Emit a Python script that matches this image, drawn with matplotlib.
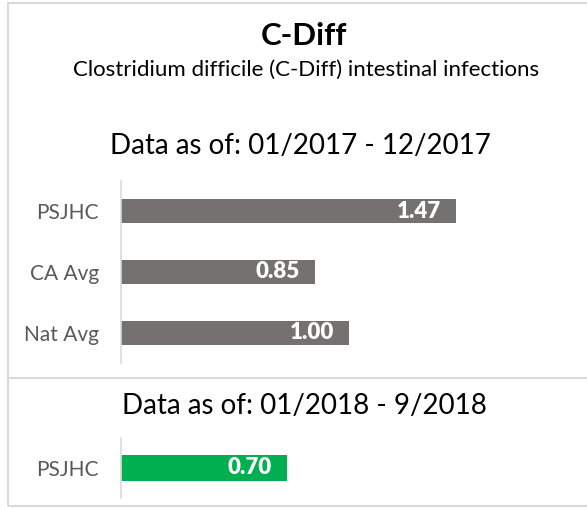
import matplotlib.pyplot as plt
from matplotlib.patches import Rectangle
from matplotlib.lines import Line2D

plt.rcParams['font.family'] = ['Lato', 'DejaVu Sans']

# data
cats_2017 = ["PSJHC", "CA Avg", "Nat Avg"]
vals_2017 = [1.47, 0.85, 1.00]
cats_2018 = ["PSJHC"]
vals_2018 = [0.70]

title = "C-Diff"
subtitle = "Clostridium difficile (C-Diff) intestinal infections"
period_2017 = "Data as of: 01/2017 - 12/2017"
period_2018 = "Data as of: 01/2018 - 9/2018"

W, H = 587, 508
fig = plt.figure(figsize=(W / 100, H / 100), dpi=100)


def px_axes(left, top, width, height):
    return fig.add_axes([left / W, 1 - (top + height) / H, width / W, height / H])


def draw_bars(ax, cats, vals, color, xmax, bar_h):
    ys = list(range(len(cats)))
    ax.barh(ys, vals, height=bar_h, color=color)
    for y, v in zip(ys, vals):
        ax.annotate(f"{v:.2f}", xy=(v, y), xytext=(-11, 0), textcoords='offset points',
                    ha='right', va='center', color='white', fontsize=16, fontweight='heavy')
    ax.set_yticks(ys)
    ax.set_yticklabels(cats, fontsize=15, color='#595959')
    ax.set_ylim(len(cats) - 0.5, -0.5)
    ax.set_xlim(0, xmax)
    ax.set_xticks([])
    ax.tick_params(axis='y', length=0, pad=16)
    for s in ['top', 'right', 'bottom']:
        ax.spines[s].set_visible(False)
    ax.spines['left'].set_color('#D9D9D9')
    ax.spines['left'].set_linewidth(1.2)


ax1 = px_axes(121, 181, 456, 182)
draw_bars(ax1, cats_2017, vals_2017, '#767171', 456 / 228, 0.4)

ax2 = px_axes(121, 438, 456, 60)
draw_bars(ax2, cats_2018, vals_2018, '#00B050', 456 / 237, 0.43)

# border and separator
fig.patches.append(Rectangle((8 / W, 2 / H), 1, 1 - 5 / H, transform=fig.transFigure,
                             fill=False, edgecolor='#D9D9D9', linewidth=1.5))
fig.lines.append(Line2D([8 / W, 1], [1 - 378 / H] * 2, transform=fig.transFigure,
                        color='#D9D9D9', linewidth=1.5))

fig.text(304 / W, 1 - 36 / H, title, ha='center', va='center', fontsize=22.5, fontweight='bold')
fig.text(306 / W, 1 - 70 / H, subtitle, ha='center', va='center', fontsize=16)
fig.text(300 / W, 1 - 146 / H, period_2017, ha='center', va='center', fontsize=20)
fig.text(304 / W, 1 - 406 / H, period_2018, ha='center', va='center', fontsize=20)

fig.savefig("out.png", dpi=100)
